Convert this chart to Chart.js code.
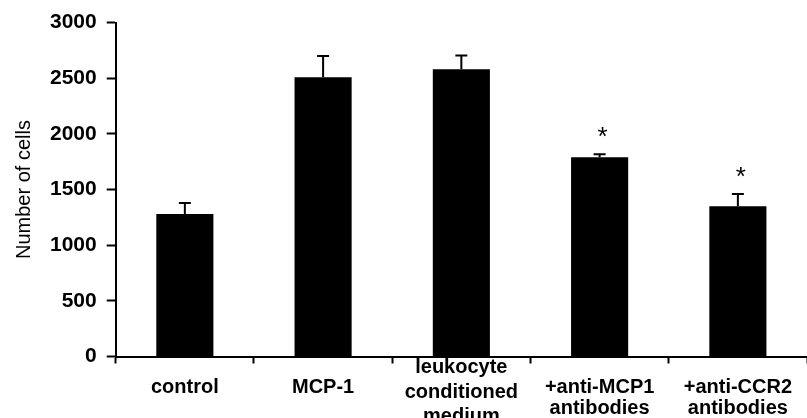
<!DOCTYPE html>
<html>
<head>
<meta charset="utf-8">
<script src="https://cdn.jsdelivr.net/npm/chart.js@4"></script>
<style>
    html, body { margin: 0; padding: 0; background: #fff; overflow: hidden; }
    #wrap { position: relative; width: 807px; height: 421px; }
</style>
</head>
<body>
<div id="wrap"><canvas id="chartCells"></canvas></div>
<script>
const categories = [
    ["", "control"],
    ["", "MCP-1"],
    ["leukocyte", "conditioned", "medium"],
    ["", "+anti-MCP1", "antibodies"],
    ["", "+anti-CCR2", "antibodies"]
];
const cellCounts = [1280, 2510, 2580, 1790, 1350];
const cellErrors = [100, 190, 125, 27, 110];
const significant = [false, false, false, true, true];
const yTicks = [0, 500, 1000, 1500, 2000, 2500, 3000];

const FONT = "'Liberation Sans', Arial, sans-serif";

// error bars and asterisks, drawn on top of the bars
const errorBars = {
    id: "errorBars",
    afterDatasetsDraw(chart) {
        const ctx = chart.ctx;
        const y = chart.scales.y;
        const meta = chart.getDatasetMeta(0);
        ctx.save();
        ctx.strokeStyle = "#000";
        ctx.lineWidth = 2;
        meta.data.forEach((bar, i) => {
            const top = y.getPixelForValue(cellCounts[i]);
            const errTop = y.getPixelForValue(cellCounts[i] + cellErrors[i]);
            ctx.beginPath();
            ctx.moveTo(bar.x, top);
            ctx.lineTo(bar.x, errTop);
            ctx.moveTo(bar.x - 6, errTop);
            ctx.lineTo(bar.x + 6, errTop);
            ctx.stroke();
            if (significant[i]) {
                ctx.fillStyle = "#000";
                ctx.font = "26px " + FONT;
                ctx.textAlign = "center";
                ctx.textBaseline = "alphabetic";
                ctx.fillText("*", bar.x + 3, errTop - 9);
            }
        });
        ctx.restore();
    }
};

new Chart(document.getElementById("chartCells"), {
    type: "bar",
    data: {
        labels: categories,
        datasets: [{
            data: cellCounts,
            backgroundColor: "#000",
            borderWidth: 0,
            barPercentage: 0.413,
            categoryPercentage: 1
        }]
    },
    options: {
        responsive: true,
        maintainAspectRatio: false,
        animation: false,
        layout: {
            padding: { top: 21, right: 0, left: 0, bottom: 0 }
        },
        scales: {
            x: {
                offset: true,
                grid: {
                    offset: true,
                    drawOnChartArea: false,
                    tickLength: 7,
                    tickColor: "#000",
                    tickWidth: 2
                },
                border: { color: "#000", width: 2 },
                ticks: {
                    color: "#000",
                    padding: -8,
                    maxRotation: 0,
                    autoSkip: false,
                    font: (c) => ({
                        family: FONT,
                        size: 20,
                        weight: "bold",
                        lineHeight: c.index === 2 ? 1.225 : 1.05
                    })
                }
            },
            y: {
                min: 0,
                max: 3000,
                afterBuildTicks: (scale) => {
                    scale.ticks = yTicks.map(v => ({ value: v }));
                },
                grid: {
                    drawOnChartArea: false,
                    tickLength: 9,
                    tickColor: "#000",
                    tickWidth: 2
                },
                border: { color: "#000", width: 2 },
                ticks: {
                    color: "#000",
                    padding: 10,
                    callback: (v) => String(v),
                    font: { family: FONT, size: 21, weight: "bold" }
                },
                title: {
                    display: true,
                    text: "Number of cells",
                    color: "#000",
                    padding: { top: 12, bottom: 4 },
                    font: { family: FONT, size: 20 }
                }
            }
        },
        plugins: {
            legend: { display: false },
            tooltip: { enabled: false }
        }
    },
    plugins: [errorBars]
});
</script>
</body>
</html>
